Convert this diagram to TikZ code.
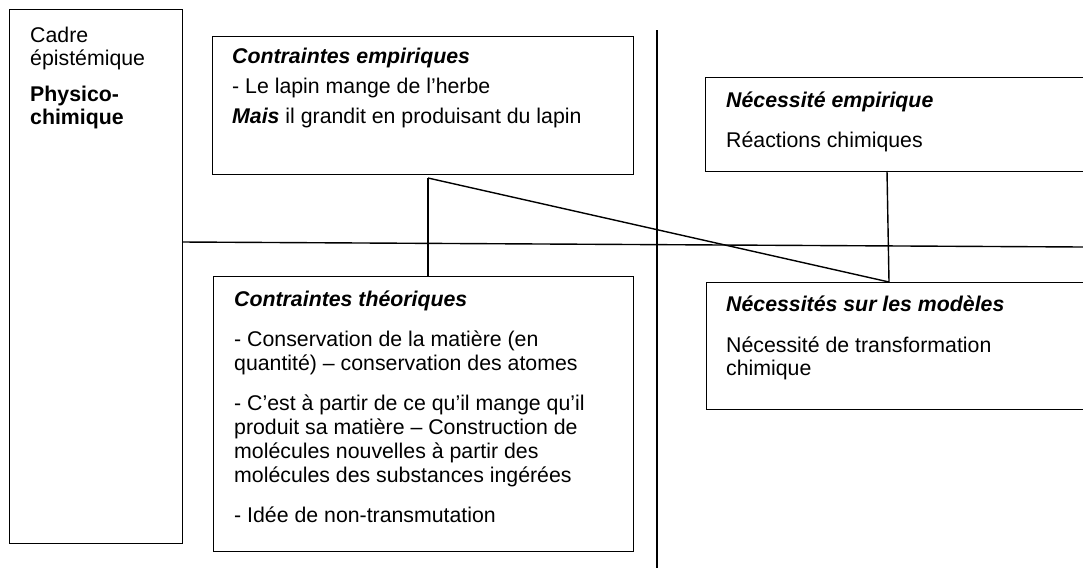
\documentclass[tikz,border=0pt]{standalone}
\usepackage{fontspec}
\setmainfont{Liberation Sans}
\begin{document}
\begin{tikzpicture}[x=1pt,y=-1pt,
  box/.style={draw, line width=1.4pt, inner sep=0pt, anchor=north west},
  txt/.style={anchor=base west, inner sep=0pt, font=\fontsize{21.3}{25}\selectfont},
  link/.style={line width=1.4pt}]
\clip (0,0) rectangle (1083,571);
\fill[white] (0,0) rectangle (1083,571);
% boxes
\node[box, minimum width=173pt, minimum height=534pt] (cadre) at (9,9) {};
\node[box, minimum width=421pt, minimum height=138pt] (emp) at (212,36) {};
\node[box, minimum width=420pt, minimum height=275pt] (theo) at (213,276) {};
\node[box, minimum width=390pt, minimum height=94pt] (necemp) at (705,77) {};
\node[box, minimum width=390pt, minimum height=127pt] (necmod) at (706,282) {};
% texts: cadre
\node[txt] (c1) at (30,42) {Cadre};
\node[txt] (c2) at (30,65) {épistémique};
\node[txt] (c3) at (30,101) {\textbf{Physico-}};
\node[txt] (c4) at (30,124) {\textbf{chimique}};
% contraintes empiriques
\node[txt] (e1) at (232,63) {\textbf{\textit{Contraintes empiriques}}};
\node[txt] (e2) at (232,93) {- Le lapin mange de l’herbe};
\node[txt] (e3) at (232,123) {\textbf{\textit{Mais}} il grandit en produisant du lapin};
% contraintes theoriques
\node[txt] (h1) at (234,306) {\textbf{\textit{Contraintes théoriques}}};
\node[txt] (h2) at (234,346) {- Conservation de la matière (en};
\node[txt] (h3) at (234,370) {quantité) – conservation des atomes};
\node[txt] (h4) at (234,410) {- C’est à partir de ce qu’il mange qu’il};
\node[txt] (h5) at (234,434) {produit sa matière – Construction de};
\node[txt] (h6) at (234,458) {molécules nouvelles à partir des};
\node[txt] (h7) at (234,482) {molécules des substances ingérées};
\node[txt] (h8) at (234,522) {- Idée de non-transmutation};
% necessite empirique
\node[txt] (n1) at (726,107) {\textbf{\textit{Nécessité empirique}}};
\node[txt] (n2) at (726,147) {Réactions chimiques};
% necessites sur les modeles
\node[txt] (m1) at (726,311) {\textbf{\textit{Nécessités sur les modèles}}};
\node[txt] (m2) at (726,352) {Nécessité de transformation};
\node[txt] (m3) at (726,375) {chimique};
% connectors
\coordinate (J) at (428,178);
\coordinate (K) at (889,282);
\coordinate (L) at (887,171);
\coordinate (S1) at (657,30);
\coordinate (S2) at (657,568);
\coordinate (H1) at (182,242);
\coordinate (H2) at (1083,247);
\draw[link] (S1) -- (S2);
\draw[link] (H1) -- (H2);
\draw[link] (J) -- (J |- theo.north);
\draw[link] (J) -- (K);
\draw[link] (L) -- (K);
\end{tikzpicture}
\end{document}
